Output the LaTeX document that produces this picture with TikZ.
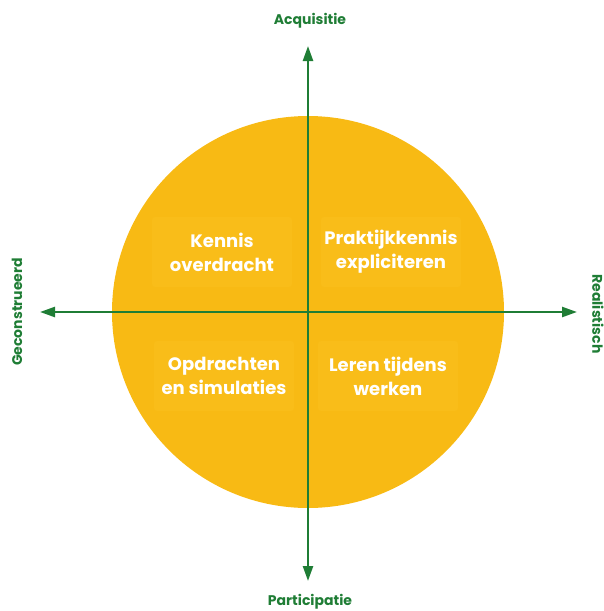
\documentclass[tikz,border=0pt]{standalone}
\usepackage{fontspec}
\setmainfont{Poppins}
\usetikzlibrary{arrows.meta}
\definecolor{sun}{HTML}{F8BA14}
\definecolor{sunbox}{HTML}{F9BD19}
\definecolor{axisgreen}{HTML}{1F7D35}
\tikzset{
  quad/.style={fill=sunbox, rounded corners=3pt, text=white, font=\fontsize{18}{24}\selectfont\bfseries, align=center, minimum width=140pt, minimum height=70pt, inner sep=0pt},
  axis/.style={draw=axisgreen, line width=2.4pt, -{Triangle[length=15pt,width=10pt]}},
  axlabel/.style={text=axisgreen, font=\fontsize{14}{16}\selectfont\bfseries, inner sep=0pt}
}
\begin{document}
\begin{tikzpicture}[x=1pt,y=-1pt]
\useasboundingbox (0,0) rectangle (603,611);
\clip (0,0) rectangle (603,611);
\fill[sun] (308,312) circle (196);
\node[quad] (q1) at (222,252) {Kennis\\overdracht};
\node[quad] (q2) at (391,252) {Praktijkkennis\\expliciteren};
\node[quad] (q3) at (224,376) {Opdrachten\\en simulaties};
\node[quad] (q4) at (388,376) {Leren tijdens\\werken};
\coordinate (c) at (308,312);
\coordinate (top) at (308,46);
\coordinate (bot) at (308,581);
\coordinate (lft) at (40,312);
\coordinate (rgt) at (577,312);
\draw[axis] (c) -- (top);
\draw[axis] (c) -- (bot);
\draw[axis] (c) -- (lft);
\draw[axis] (c) -- (rgt);
\node[axlabel] (acq) at (310,21) {Acquisitie};
\node[axlabel] (par) at (310,602) {Participatie};
\node[axlabel, rotate=90] (gec) at (17,312) {Geconstrueerd};
\node[axlabel, rotate=-90] (rea) at (598,314) {Realistisch};
\end{tikzpicture}
\end{document}
